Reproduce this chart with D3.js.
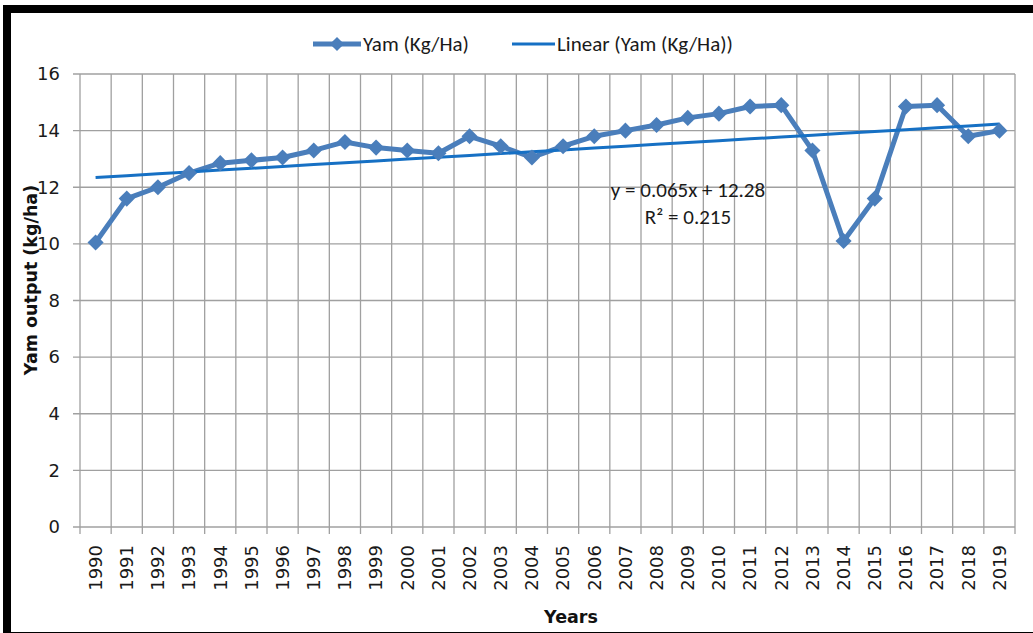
<!DOCTYPE html>
<html>
<head>
<meta charset="utf-8">
<script src="https://cdn.jsdelivr.net/npm/d3@7"></script>
<style>
  body { margin: 0; background: #fff; }
  svg { display: block; }
</style>
</head>
<body>
<div id="chart"></div>
<script>
// data
const years = ["1990","1991","1992","1993","1994","1995","1996","1997","1998","1999",
  "2000","2001","2002","2003","2004","2005","2006","2007","2008","2009",
  "2010","2011","2012","2013","2014","2015","2016","2017","2018","2019"];
const yam = [10.05, 11.6, 12.0, 12.5, 12.85, 12.95, 13.05, 13.3, 13.6, 13.4,
  13.3, 13.2, 13.8, 13.45, 13.05, 13.45, 13.8, 14.0, 14.2, 14.45,
  14.6, 14.85, 14.9, 13.3, 10.1, 11.6, 14.85, 14.9, 13.8, 14.0];
const yTicks = [0, 2, 4, 6, 8, 10, 12, 14, 16];
const trendSlope = 0.065, trendIntercept = 12.28;
const equationLines = ["y = 0.065x + 12.28", "R² = 0.215"];
const legendLabels = ["Yam (Kg/Ha)", "Linear (Yam (Kg/Ha))"];

const W = 1033, H = 633;
const margin = {top: 74, right: 18, bottom: 106, left: 80};
const seriesColor = "#4a7ebb", trendColor = "#1670c4", gridColor = "#a0a0a0";
const sans = "DejaVu Sans, Verdana, sans-serif";
const narrow = "Carlito, Lato, sans-serif";

const svg = d3.select("#chart").append("svg")
  .attr("width", W).attr("height", H);

svg.append("rect").attr("width", W).attr("height", H).attr("fill", "#fff");

const x = d3.scaleBand().domain(years).range([margin.left, W - margin.right]);
const y = d3.scaleLinear().domain([0, 16]).range([H - margin.bottom, margin.top]);

// horizontal grid + left ticks
svg.append("g").selectAll("line").data(yTicks).join("line")
  .attr("x1", margin.left - 7).attr("x2", W - margin.right)
  .attr("y1", d => y(d)).attr("y2", d => y(d))
  .attr("stroke", gridColor).attr("stroke-width", 1.3);

// vertical grid at category boundaries + bottom ticks
const bounds = years.map(d => x(d)).concat([x.range()[1]]);
svg.append("g").selectAll("line").data(bounds).join("line")
  .attr("x1", d => d).attr("x2", d => d)
  .attr("y1", margin.top).attr("y2", H - margin.bottom + 7)
  .attr("stroke", gridColor).attr("stroke-width", 1.3);

// y axis labels
const yAxis = svg.append("g")
  .attr("transform", `translate(${margin.left},0)`)
  .call(d3.axisLeft(y).tickValues(yTicks).tickSize(0).tickPadding(20));
yAxis.select(".domain").remove();
yAxis.selectAll("text")
  .attr("font-family", sans)
  .attr("font-size", 18).attr("fill", "#1a1a1a");

// x axis labels, rotated
const xAxis = svg.append("g")
  .attr("transform", `translate(0,${H - margin.bottom})`)
  .call(d3.axisBottom(x).tickSize(0));
xAxis.select(".domain").remove();
xAxis.selectAll("text")
  .attr("font-family", sans)
  .attr("font-size", 18).attr("fill", "#1a1a1a")
  .attr("text-anchor", "end")
  .attr("dy", "0.35em")
  .attr("transform", "translate(0,18) rotate(-90)")
  .attr("x", 0).attr("y", 0);

// axis titles
svg.append("text")
  .attr("transform", `translate(37,280) rotate(-90)`)
  .attr("text-anchor", "middle")
  .attr("font-family", sans)
  .attr("font-weight", "bold").attr("font-size", 17.5).attr("fill", "#111")
  .text("Yam output (kg/ha)");

svg.append("text")
  .attr("x", 571).attr("y", 623)
  .attr("text-anchor", "middle")
  .attr("font-family", sans)
  .attr("font-weight", "bold").attr("font-size", 17.5).attr("fill", "#111")
  .text("Years");

// series line
const cx = d => x(d) + x.bandwidth() / 2;
svg.append("path")
  .datum(years)
  .attr("fill", "none").attr("stroke", seriesColor)
  .attr("stroke-width", 5).attr("stroke-linejoin", "round")
  .attr("d", d3.line().x(d => cx(d)).y((d, i) => y(yam[i])));

// trendline
svg.append("path")
  .datum(years)
  .attr("fill", "none").attr("stroke", trendColor).attr("stroke-width", 3)
  .attr("d", d3.line().x(d => cx(d)).y((d, i) => y(trendSlope * (i + 1) + trendIntercept)));

// diamond markers
const diamond = d3.symbol(d3.symbolSquare, 130);
svg.append("g").selectAll("path").data(years).join("path")
  .attr("d", diamond)
  .attr("transform", (d, i) => `translate(${cx(d)},${y(yam[i])}) rotate(45)`)
  .attr("fill", seriesColor);

// equation
svg.append("g").selectAll("text").data(equationLines).join("text")
  .attr("x", 688).attr("y", (d, i) => 197 + i * 27)
  .attr("text-anchor", "middle")
  .attr("font-family", narrow)
  .attr("font-size", 21).attr("fill", "#1a1a1a")
  .text(d => d);

// legend
const leg = svg.append("g").attr("font-family", narrow)
  .attr("font-size", 21).attr("fill", "#1a1a1a");
leg.append("line").attr("x1", 313).attr("x2", 361).attr("y1", 44).attr("y2", 44)
  .attr("stroke", seriesColor).attr("stroke-width", 5);
leg.append("path").attr("d", d3.symbol(d3.symbolSquare, 100))
  .attr("transform", "translate(337,44) rotate(45)").attr("fill", seriesColor);
leg.append("text").attr("x", 363).attr("y", 51).text(legendLabels[0]);
leg.append("line").attr("x1", 512).attr("x2", 555).attr("y1", 44).attr("y2", 44)
  .attr("stroke", trendColor).attr("stroke-width", 3);
leg.append("text").attr("x", 557).attr("y", 51).text(legendLabels[1]);

// frame
svg.append("rect")
  .attr("x", 7).attr("y", 9).attr("width", W + 40).attr("height", H - 6)
  .attr("fill", "none").attr("stroke", "#000").attr("stroke-width", 8);
</script>
</body>
</html>
